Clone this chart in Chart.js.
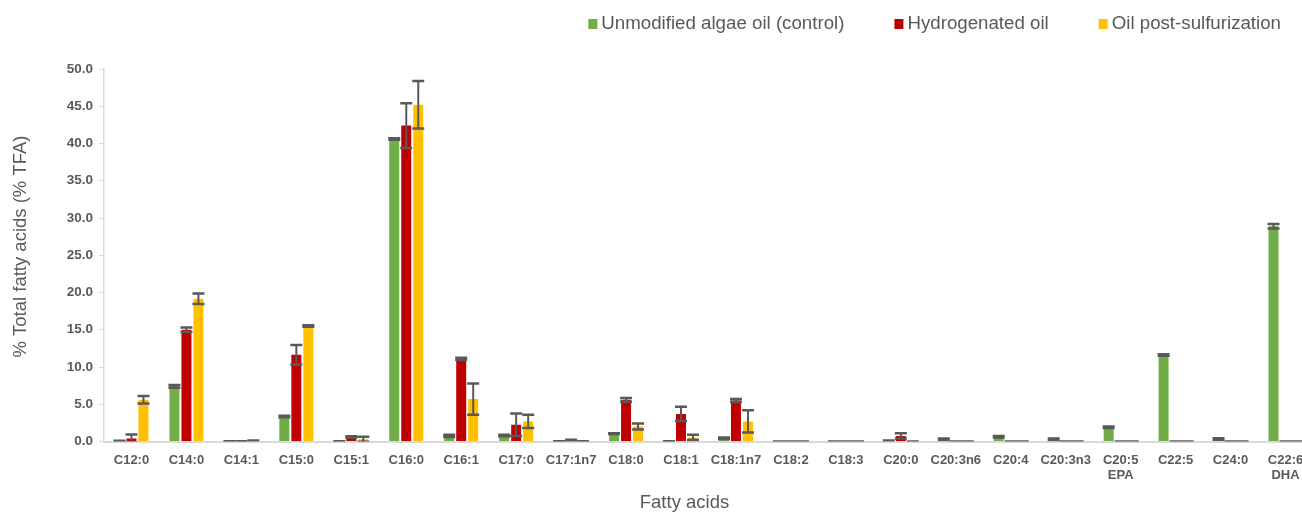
<!DOCTYPE html>
<html>
<head>
<meta charset="utf-8">
<script src="https://cdn.jsdelivr.net/npm/chart.js@4.4.1/dist/chart.umd.min.js"></script>
<style>
  html, body { margin: 0; padding: 0; background: #ffffff; overflow: hidden; }
  #wrap { width: 1313px; height: 513px; position: relative; }
</style>
</head>
<body>
<div id="wrap"><canvas id="c" width="1313" height="513"></canvas></div>
<script>
const categories = ['C12:0','C14:0','C14:1','C15:0','C15:1','C16:0','C16:1','C17:0','C17:1n7','C18:0','C18:1','C18:1n7','C18:2','C18:3','C20:0','C20:3n6','C20:4','C20:3n3',['C20:5','EPA'],'C22:5','C24:0',['C22:6','DHA']];

const seriesNames = ['Unmodified algae oil (control)', 'Hydrogenated oil', 'Oil post-sulfurization'];

const controlValues = [0.1, 7.4, 0.05, 3.35, 0.05, 40.6, 0.75, 0.8, 0.05, 1.05, 0.05, 0.45, 0, 0, 0.15, 0.3, 0.65, 0.3, 1.9, 11.6, 0.35, 28.9];
const controlErrors = [0, 0.2, 0, 0.1, 0, 0.1, 0.15, 0.1, 0, 0.05, 0, 0.1, 0, 0, 0, 0.1, 0.1, 0.1, 0.1, 0.1, 0.1, 0.3];

const hydroValues = [0.4, 15.0, 0.05, 11.65, 0.6, 42.4, 11.1, 2.25, 0.2, 5.6, 3.7, 5.5, 0, 0, 0.75, 0, 0, 0, 0, 0, 0, 0];
const hydroErrors = [0.55, 0.3, 0, 1.3, 0.1, 3.0, 0.15, 1.5, 0.05, 0.25, 0.95, 0.2, 0, 0, 0.35, 0, 0, 0, 0, 0, 0, 0];

const sulfValues = [5.6, 19.15, 0.15, 15.5, 0.3, 45.2, 5.7, 2.7, 0.05, 2.0, 0.55, 2.7, 0, 0, 0, 0, 0, 0, 0, 0, 0, 0];
const sulfErrors = [0.5, 0.7, 0, 0.1, 0.35, 3.2, 2.1, 0.9, 0, 0.4, 0.35, 1.5, 0, 0, 0, 0, 0, 0, 0, 0, 0, 0];

const yTickMin = 0, yTickMax = 50, yTickStep = 5;
const yTitle = '% Total fatty acids (% TFA)';
const xTitle = 'Fatty acids';

const colors = ['#70AD47', '#C00000', '#FFC000'];
const textGray = '#595959';
const FONT = '"Liberation Sans", Arial, Helvetica, sans-serif';
const errorSets = [controlErrors, hydroErrors, sulfErrors];

const errorBarPlugin = {
  id: 'errorBars',
  afterDatasetsDraw(chart) {
    const ctx = chart.ctx;
    const ys = chart.scales.y;
    const area = chart.chartArea;
    ctx.save();
    ctx.beginPath();
    ctx.rect(area.left, area.top - 20, area.right - area.left, area.bottom - area.top + 20);
    ctx.clip();
    ctx.strokeStyle = '#595959';
    chart.data.datasets.forEach((ds, i) => {
      const meta = chart.getDatasetMeta(i);
      meta.data.forEach((el, j) => {
        const v = ds.data[j];
        const e = errorSets[i][j];
        const yT = ys.getPixelForValue(v + e);
        const yB = ys.getPixelForValue(v - e);
        const x = el.x;
        const half = 6;
        ctx.lineWidth = 2;
        ctx.beginPath();
        ctx.moveTo(x, yT); ctx.lineTo(x, yB);
        ctx.stroke();
        ctx.lineWidth = 2.5;
        ctx.beginPath();
        ctx.moveTo(x - half, yT); ctx.lineTo(x + half, yT);
        ctx.moveTo(x - half, yB); ctx.lineTo(x + half, yB);
        ctx.stroke();
      });
    });
    ctx.restore();
  }
};

const decorPlugin = {
  id: 'decor',
  afterDraw(chart) {
    const ctx = chart.ctx;
    ctx.save();
    // Legend (right aligned)
    ctx.font = '18.7px ' + FONT;
    ctx.textBaseline = 'middle';
    ctx.textAlign = 'left';
    const boxSize = 9, boxGap = 4, itemGap = 50;
    const widths = seriesNames.map(n => ctx.measureText(n).width);
    let total = 0;
    widths.forEach((w, i) => { total += boxSize + boxGap + w + (i < widths.length - 1 ? itemGap : 0); });
    let x = 1281 - total;
    const yMid = 24;
    seriesNames.forEach((n, i) => {
      ctx.fillStyle = colors[i];
      ctx.fillRect(x, yMid - 5, boxSize, boxSize + 1);
      x += boxSize + boxGap;
      ctx.fillStyle = textGray;
      ctx.fillText(n, x, yMid);
      x += widths[i] + itemGap;
    });
    // Axis titles
    ctx.fillStyle = textGray;
    ctx.font = '18.5px ' + FONT;
    ctx.textAlign = 'center';
    ctx.fillText(xTitle, 684.5, 503);
    ctx.translate(21, 246.5);
    ctx.rotate(-Math.PI / 2);
    ctx.fillText(yTitle, 0, 0);
    ctx.restore();
  }
};

new Chart(document.getElementById('c'), {
  type: 'bar',
  data: {
    labels: categories,
    datasets: [
      { label: seriesNames[0], data: controlValues, backgroundColor: colors[0], borderWidth: 0 },
      { label: seriesNames[1], data: hydroValues, backgroundColor: colors[1], borderWidth: 0 },
      { label: seriesNames[2], data: sulfValues, backgroundColor: colors[2], borderWidth: 0 }
    ]
  },
  options: {
    responsive: false,
    animation: false,
    devicePixelRatio: 1,
    layout: { padding: { top: 69, right: 0, bottom: 0, left: 0 } },
    datasets: { bar: { categoryPercentage: 0.655, barPercentage: 0.833 } },
    plugins: { legend: { display: false }, tooltip: { enabled: false } },
    scales: {
      x: {
        grid: { display: false },
        border: { display: true, color: '#d9d9d9', width: 2 },
        ticks: {
          color: textGray,
          font: { family: FONT, size: 13, weight: 'bold', lineHeight: 1.15 },
          padding: 3,
          maxRotation: 0,
          minRotation: 0,
          autoSkip: false
        },
        afterFit(s) { s.height = 71.5; }
      },
      y: {
        min: yTickMin,
        max: yTickMax,
        grid: { drawOnChartArea: false, drawTicks: true, tickLength: 5, color: '#d9d9d9', lineWidth: 1 },
        border: { display: true, color: '#d9d9d9', width: 1.5 },
        ticks: {
          stepSize: yTickStep,
          color: textGray,
          font: { family: FONT, size: 13.5, weight: 'bold' },
          padding: 6,
          callback: v => Number(v).toFixed(1)
        },
        afterFit(s) { s.width = 104; }
      }
    }
  },
  plugins: [errorBarPlugin, decorPlugin]
});
</script>
</body>
</html>
